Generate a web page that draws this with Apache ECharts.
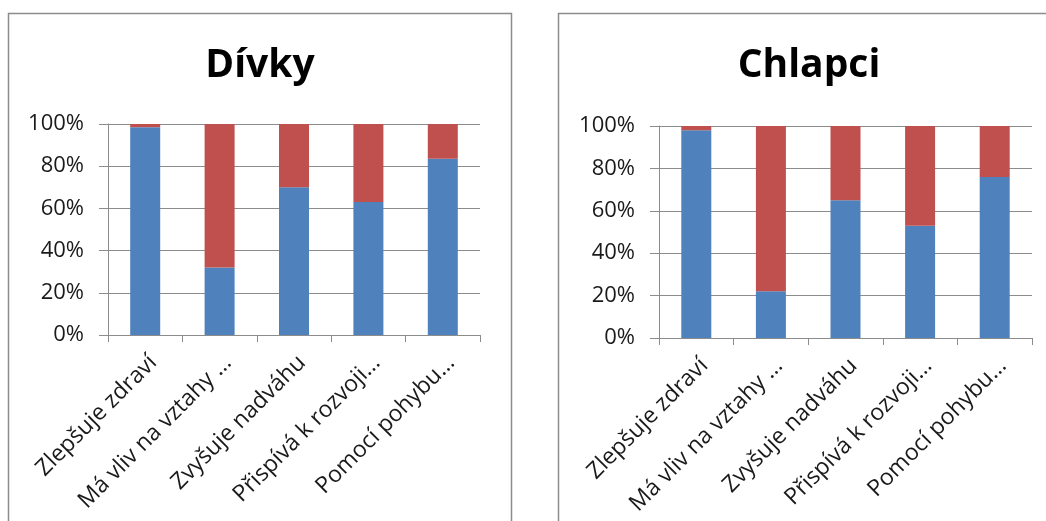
<!DOCTYPE html>
<html>
<head>
<meta charset="utf-8">
<script src="https://cdn.jsdelivr.net/npm/echarts@6/dist/echarts.min.js"></script>
<style>
  html, body { margin: 0; padding: 0; background: #fff; }
  #chart { width: 1046px; height: 521px; }
</style>
</head>
<body>
<div id="chart"></div>
<script>
// Categories shared by both panels
const categories = ['Zlepšuje zdraví', 'Má vliv na vztahy …', 'Zvyšuje nadváhu', 'Přispívá k rozvoji…', 'Pomocí pohybu…'];

// Girls (percent of answers)
const girlsYes = [98.5, 32, 70, 63, 83.5];
const girlsNo  = [1.5, 68, 30, 37, 16.5];

// Boys (percent of answers)
const boysYes = [98, 22, 65, 53, 76];
const boysNo  = [2, 78, 35, 47, 24];

const panelTitles = ['Dívky', 'Chlapci'];

const FONT = '"Open Sans", "Noto Sans", sans-serif';
const GRAY = '#8c8c8c';
const TEXT = '#1a1a1a';
const BLUE = '#4f81bd';
const RED = '#c0504d';

const grids = [
  { left: 108, top: 124, width: 372, height: 211 },
  { left: 659, top: 126, width: 373, height: 212 }
];

function xAxisFor(i) {
  return {
    type: 'category', gridIndex: i, data: categories,
    boundaryGap: true,
    axisLine: { show: true, lineStyle: { color: GRAY, width: 1 } },
    axisTick: { show: true, length: 7, alignWithLabel: false, lineStyle: { color: GRAY } },
    axisLabel: { rotate: 45, interval: 0, margin: 16, verticalAlign: 'top', color: TEXT, fontFamily: FONT, fontSize: 23 }
  };
}
function yAxisFor(i) {
  return {
    type: 'value', gridIndex: i, min: 0, max: 100, interval: 20,
    axisLine: { show: true, lineStyle: { color: GRAY, width: 1 } },
    axisTick: { show: true, length: 9, lineStyle: { color: GRAY } },
    splitLine: { show: true, lineStyle: { color: GRAY, width: 1 } },
    axisLabel: { formatter: '{value}%', margin: 24, color: TEXT, fontFamily: FONT, fontSize: 22 }
  };
}
function barSeries(name, data, color, i) {
  return {
    type: 'bar', name: name, data: data, stack: 'panel' + i,
    xAxisIndex: i, yAxisIndex: i, barWidth: 30,
    itemStyle: { color: color }, silent: true
  };
}

const chart = echarts.init(document.getElementById('chart'), null, { renderer: 'canvas' });
chart.setOption({
  animation: false,
  backgroundColor: '#fff',
  grid: grids,
  xAxis: [xAxisFor(0), xAxisFor(1)],
  yAxis: [yAxisFor(0), yAxisFor(1)],
  series: [
    barSeries('ano', girlsYes, BLUE, 0),
    barSeries('ne', girlsNo, RED, 0),
    barSeries('ano', boysYes, BLUE, 1),
    barSeries('ne', boysNo, RED, 1)
  ],
  graphic: [
    { type: 'rect', shape: { x: 8.5, y: 13.5, width: 503, height: 530 }, style: { fill: 'none', stroke: GRAY, lineWidth: 1.5 }, z: -1 },
    { type: 'rect', shape: { x: 558.5, y: 13.5, width: 520, height: 530 }, style: { fill: 'none', stroke: GRAY, lineWidth: 1.5 }, z: -1 },
    { type: 'text', x: 260, y: 66, style: { text: panelTitles[0], font: 'bold 39px ' + FONT, fill: '#000', align: 'center', verticalAlign: 'middle' } },
    { type: 'text', x: 809, y: 66, style: { text: panelTitles[1], font: 'bold 39px ' + FONT, fill: '#000', align: 'center', verticalAlign: 'middle' } }
  ]
});
</script>
</body>
</html>
